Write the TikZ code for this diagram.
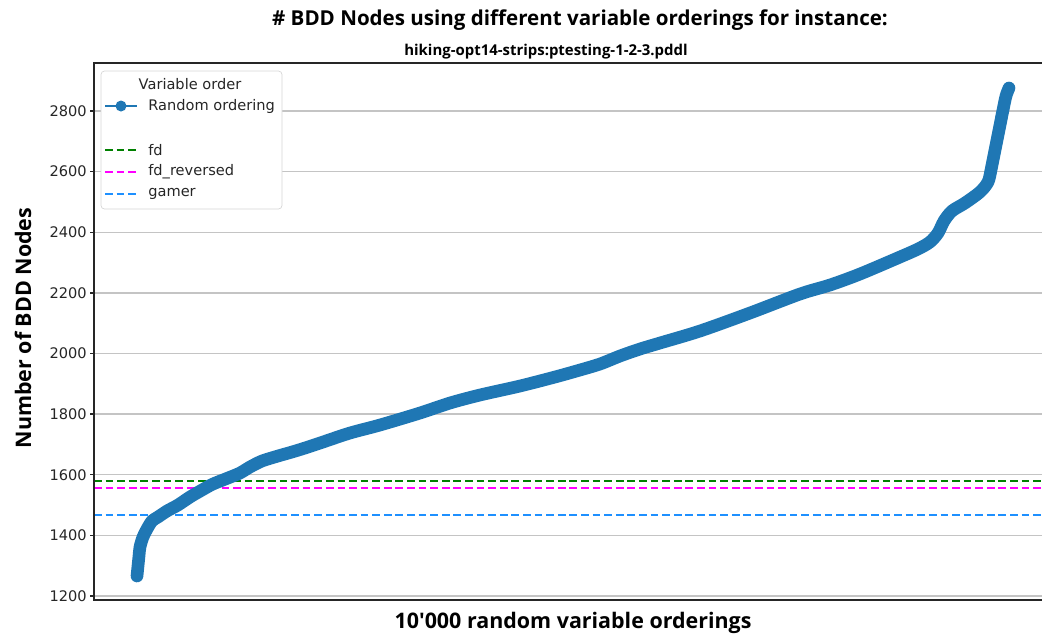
\documentclass[tikz,border=0pt]{standalone}
\usepackage{fontspec}
\setmainfont{DejaVu Sans}
\newfontfamily\headfont{Open Sans}
\usetikzlibrary{positioning}
\definecolor{curveblue}{HTML}{1F77B4}
\definecolor{fdgreen}{HTML}{008000}
\definecolor{fdmagenta}{HTML}{FF00FF}
\definecolor{gamerblue}{HTML}{1E90FF}
\definecolor{gridgrey}{HTML}{C4C4C4}
\definecolor{legendgrey}{HTML}{D6D6D6}
\tikzset{
  gridline/.style={gridgrey, line width=0.8pt},
  axisline/.style={black!85, line width=0.8pt},
  ticklabel/.style={font=\fontsize{8.3}{10}\selectfont, text=black!85, anchor=east, inner sep=0pt},
  refline/.style={dash pattern=on 4.4pt off 2.2pt, line width=1.1pt},
  legendtext/.style={font=\fontsize{8.3}{10}\selectfont, text=black!85, anchor=west, inner sep=0pt},
  headtext/.style={font=\headfont\bfseries\fontsize{12.2}{14}\selectfont, inner sep=0pt},
  ordercurve/.style={curveblue, line width=7.2pt, line cap=round, line join=round},
}

\begin{document}
\begin{tikzpicture}[x=0.02cm, y=-0.02cm]
\useasboundingbox (0,0) rectangle (1042,637);
% grid and y ticks
\foreach \v in {1200,1400,...,2800} {
  \pgfmathsetmacro\py{596-(\v-1200)*0.30313}
  \draw[gridline] (94,\py) -- (1042,\py);
  \draw[axisline] (90,\py) -- (94,\py);
  \node[ticklabel] (tick\v) at (87,\py) {\v};
}
% reference orderings
\draw[refline, fdgreen] (94,481) -- (1042,481);
\draw[refline, fdmagenta] (94,488) -- (1042,488);
\draw[refline, gamerblue] (94,515) -- (1042,515);
% sorted random orderings
\draw[ordercurve] plot[smooth, tension=0.5] coordinates {
  (137,576) (138,566) (139,556) (140,547) (143,537) (147,529) (152,521)
  (158,517) (167,511) (178,505) (190,497) (202,490) (213,484) (228,478)
  (240,473) (250,467) (262,461) (278,456) (292,452) (305,448) (323,442)
  (350,433) (380,425) (420,413) (450,403) (480,395) (520,386) (555,377)
  (580,370) (600,364) (620,356) (640,349) (660,343) (700,331) (750,313)
  (800,294) (830,285) (860,274) (900,257) (918,249) (930,242) (938,233)
  (944,221) (952,211) (965,203) (980,192) (988,182) (991,170) (994,155)
  (997,140) (1000,125) (1003,110) (1006,96) (1009,88)};
% axes frame
\draw[axisline] (1042,63) -- (94,63) -- (94,600) -- (1042,600);
% legend
\draw[legendgrey, fill=white, rounded corners=2pt] (101,71) rectangle (282,209);
\node[legendtext, anchor=center] (legtitle) at (190,84) {Variable order};
\draw[curveblue, line width=0.85pt] (105,106) -- (137,106);
\fill[curveblue] (121,106) circle (5.5);
\node[legendtext] (legrandom) at (148,106) {Random ordering};
\draw[refline, fdgreen] (105,150) -- (137,150);
\node[legendtext] (legfd) at (148,150) {fd};
\draw[refline, fdmagenta] (105,172) -- (137,172);
\node[legendtext] (legfdrev) at (148,172) {fd\_reversed};
\draw[refline, gamerblue] (105,194) -- (137,194);
\node[legendtext] (leggamer) at (148,194) {gamer};
% titles and axis labels
\node[headtext, font=\headfont\bfseries\fontsize{11.7}{14}\selectfont] (title) at (580,20) {\# BDD Nodes using different variable orderings for instance:};
\node[headtext, font=\headfont\bfseries\fontsize{8.5}{10}\selectfont] (subtitle) at (546,52) {hiking-opt14-strips:ptesting-1-2-3.pddl};
\node[headtext, rotate=90] (ylabel) at (23,328) {Number of BDD Nodes};
\node[headtext] (xlabel) at (573,623) {10'000 random variable orderings};
\end{tikzpicture}
\end{document}
